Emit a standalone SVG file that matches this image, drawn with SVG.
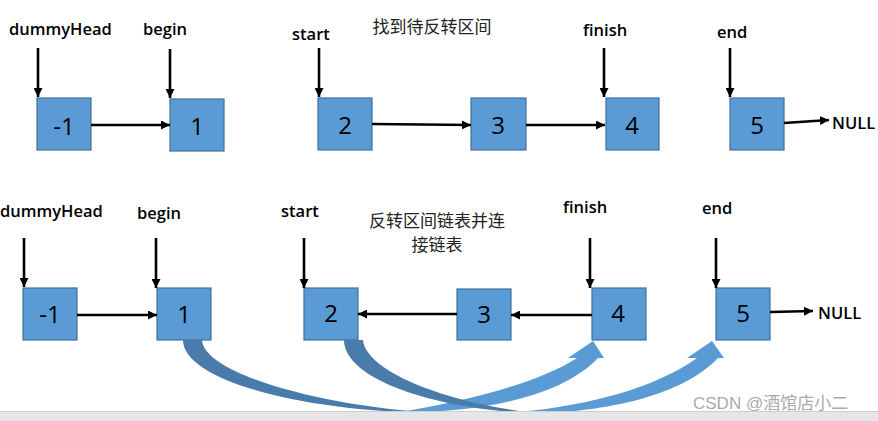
<svg xmlns="http://www.w3.org/2000/svg" width="878" height="421" viewBox="0 0 878 421">
<defs>
<marker id="ah" viewBox="0 0 10 10" refX="10" refY="5" markerWidth="9" markerHeight="9" markerUnits="userSpaceOnUse" orient="auto">
<path d="M0,0 L10,5 L0,10 z" fill="#000"/>
</marker>
<style>
.box{fill:#5b9bd5;stroke:#41719c;stroke-width:1.2}
.num{font-family:"Open Sans","Noto Sans","Liberation Sans",sans-serif;font-size:24px;font-weight:500;text-anchor:middle;fill:#000}
.lbl{font-family:"Open Sans","Noto Sans","Liberation Sans",sans-serif;font-size:16.5px;font-weight:600;fill:#000}
.cn{font-family:"Noto Sans CJK SC",sans-serif;font-size:17px;text-anchor:middle;fill:#222}
.ln{stroke:#000;stroke-width:2.6;fill:none;marker-end:url(#ah)}
.dark{fill:#497cab}
.light{fill:#5b9bd5}
</style>
</defs>
<rect width="878" height="421" fill="#fff"/>

<!-- top row -->
<g id="n-top-m1"><rect class="box" x="37" y="98" width="54" height="52"/><text class="num" x="64" y="135">-1</text></g>
<g id="n-top-1"><rect class="box" x="170" y="99" width="54" height="52"/><text class="num" x="197" y="135">1</text></g>
<g id="n-top-2"><rect class="box" x="318" y="98" width="54" height="52"/><text class="num" x="345" y="134">2</text></g>
<g id="n-top-3"><rect class="box" x="471" y="98" width="55" height="52"/><text class="num" x="498" y="134">3</text></g>
<g id="n-top-4"><rect class="box" x="606" y="98" width="53" height="52"/><text class="num" x="632" y="134">4</text></g>
<g id="n-top-5"><rect class="box" x="730" y="98" width="54" height="52"/><text class="num" x="757" y="134">5</text></g>

<g id="labels-top">
<text class="lbl" x="9" y="35">dummyHead</text>
<text class="lbl" x="143" y="35">begin</text>
<text class="lbl" x="292" y="40">start</text>
<text class="lbl" x="583" y="36">finish</text>
<text class="lbl" x="717" y="38">end</text>
<text class="lbl" x="832" y="129">NULL</text>
<text class="cn" x="432" y="33">找到待反转区间</text>
</g>

<!-- bottom row -->
<g id="n-bot-m1"><rect class="box" x="23" y="288" width="54" height="52"/><text class="num" x="50" y="323">-1</text></g>
<g id="n-bot-1"><rect class="box" x="157" y="288" width="54" height="52"/><text class="num" x="184" y="323">1</text></g>
<g id="n-bot-2"><rect class="box" x="304" y="288" width="54" height="52"/><text class="num" x="331" y="322">2</text></g>
<g id="n-bot-3"><rect class="box" x="457" y="289" width="54" height="51"/><text class="num" x="484" y="323">3</text></g>
<g id="n-bot-4"><rect class="box" x="592" y="288" width="54" height="52"/><text class="num" x="618" y="322">4</text></g>
<g id="n-bot-5"><rect class="box" x="716" y="288" width="54" height="52"/><text class="num" x="743" y="322">5</text></g>

<g id="labels-bot">
<text class="lbl" x="0" y="217">dummyHead</text>
<text class="lbl" x="137" y="219">begin</text>
<text class="lbl" x="281" y="217">start</text>
<text class="lbl" x="563" y="213">finish</text>
<text class="lbl" x="702" y="214">end</text>
<text class="lbl" x="818" y="319">NULL</text>
<text class="cn" x="437" y="227">反转区间链表并连</text>
<text class="cn" x="437" y="251">接链表</text>
</g>

<g id="connectors">
<line class="ln" x1="38" y1="48" x2="38" y2="97"/>
<line class="ln" x1="170" y1="49" x2="170" y2="98"/>
<line class="ln" x1="319" y1="48" x2="319" y2="97"/>
<line class="ln" x1="604" y1="48" x2="604" y2="97"/>
<line class="ln" x1="730" y1="48" x2="730" y2="97"/>
<line class="ln" x1="91" y1="125" x2="170" y2="125"/>
<line class="ln" x1="372" y1="124" x2="471" y2="125"/>
<line class="ln" x1="526" y1="125" x2="605" y2="125"/>
<line class="ln" x1="784" y1="123" x2="829" y2="120"/>

<line class="ln" x1="24" y1="238" x2="24" y2="287"/>
<line class="ln" x1="156" y1="238" x2="156" y2="288"/>
<line class="ln" x1="304" y1="238" x2="304" y2="288"/>
<line class="ln" x1="590" y1="238" x2="590" y2="288"/>
<line class="ln" x1="716" y1="238" x2="716" y2="288"/>
<line class="ln" x1="77" y1="315" x2="157" y2="315"/>
<line class="ln" x1="457" y1="314" x2="358" y2="314"/>
<line class="ln" x1="592" y1="315" x2="511" y2="315"/>
<line class="ln" x1="770" y1="312" x2="813" y2="311"/>

<!-- curved block arrow 1 -> 4 -->
<path class="dark" d="M183,340 L202,340 C204,375 330,408 440,413 C300,412 183,380 183,340 Z"/>
<path class="light" d="M400,412 C460,402 535,385 577,358 L568,358 L593,341 L604,358 L598,358 C560,398 480,412 400,413 Z"/>
<!-- curved block arrow 2 -> 5 -->
<path class="dark" d="M344,340 L363,340 C366,372 450,405 545,414 C430,410 344,378 344,340 Z"/>
<path class="light" d="M520,412 C590,405 655,388 697,358 L687,358 L712,341 L724,358 L718,358 C680,398 600,413 520,414 Z"/>
</g>

<rect x="0" y="412" width="878" height="9" fill="#e6e6e6"/>
<line x1="0" y1="411.5" x2="878" y2="411.5" stroke="#cfcfcf" stroke-width="1"/>
<text x="693" y="409" font-family="Liberation Sans, Noto Sans CJK SC, sans-serif" font-size="17" fill="#aaa">CSDN @酒馆店小二</text>
</svg>
